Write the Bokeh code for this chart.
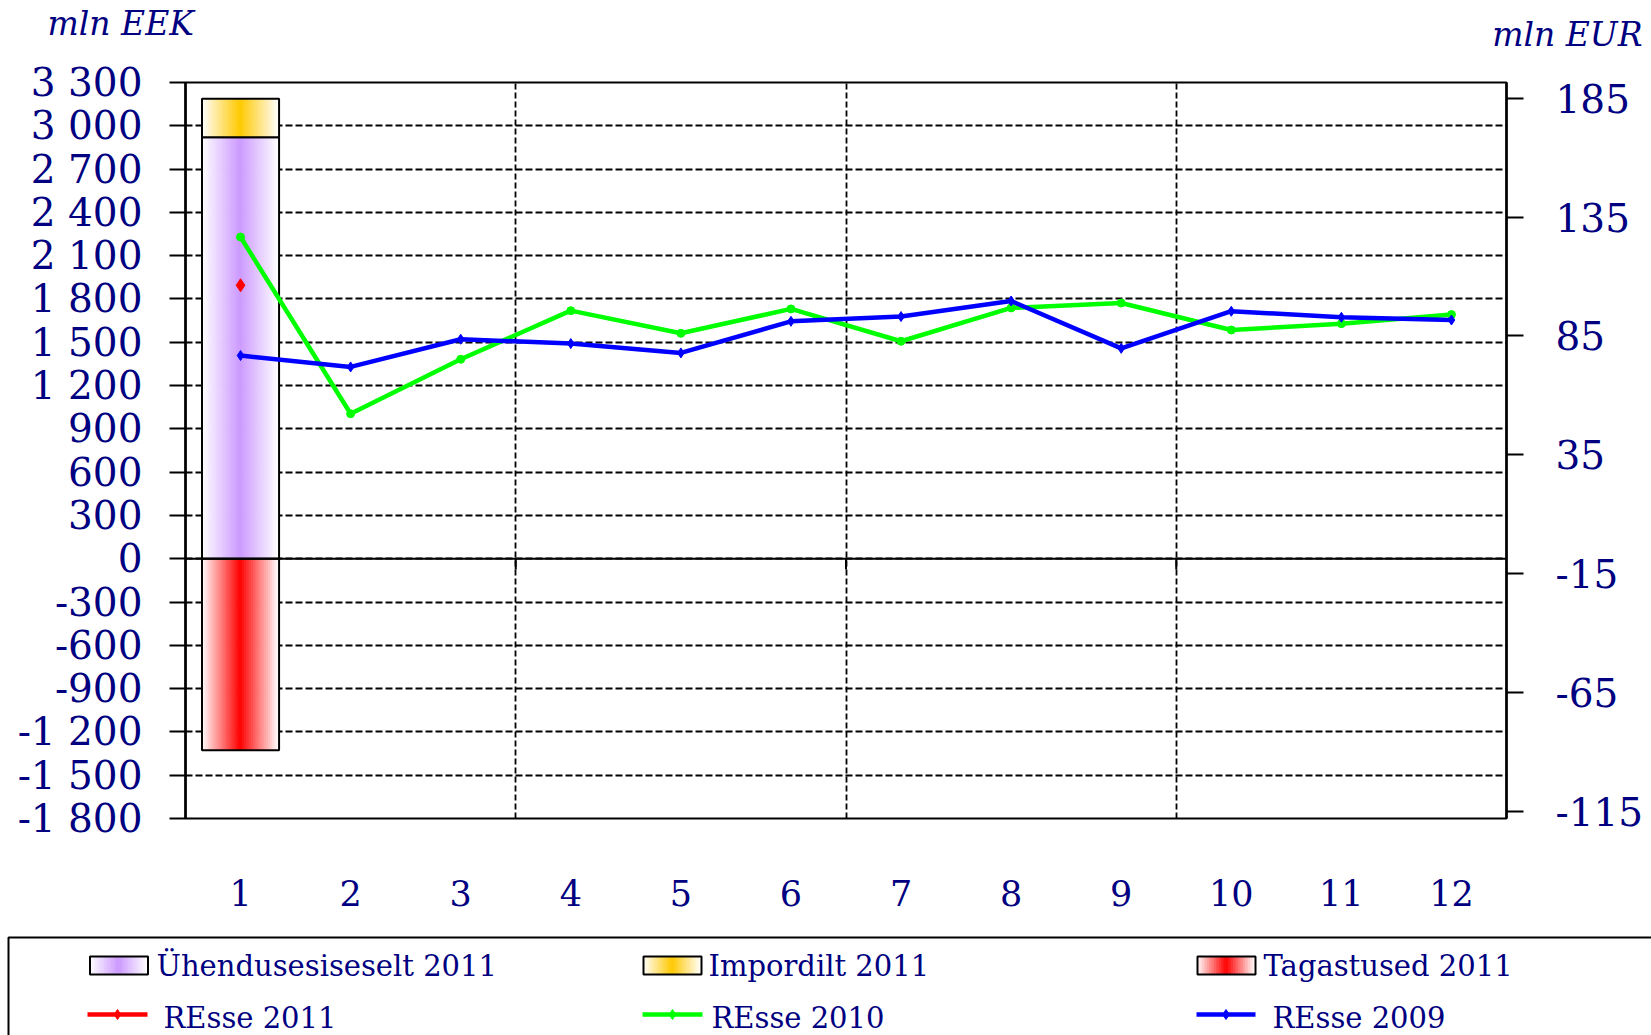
import numpy as np
from bokeh.plotting import figure
from bokeh.models import Range1d, LinearAxis, FixedTicker, Span
from bokeh.embed import file_html
from bokeh.resources import INLINE
from bokeh.core.properties import value

# ---------------- data ----------------
months = [1, 2, 3, 4, 5, 6, 7, 8, 9, 10, 11, 12]
month_labels = ["1", "2", "3", "4", "5", "6", "7", "8", "9", "10", "11", "12"]

bar_months = [1]
uhendus_2011 = [2921]      # Ühendusesiseselt 2011
import_2011 = [266]        # Impordilt 2011 (stacked on top)
tagastused_2011 = [-1327]  # Tagastused 2011

resse_2011 = [1895]
resse_2010 = [2229, 1005, 1382, 1719, 1562, 1731, 1507, 1738, 1772, 1585, 1629, 1692]
resse_2009 = [1408, 1329, 1521, 1491, 1426, 1645, 1678, 1786, 1458, 1715, 1673, 1654]

eek_ticks = [3300, 3000, 2700, 2400, 2100, 1800, 1500, 1200, 900, 600, 300, 0,
             -300, -600, -900, -1200, -1500, -1800]
eek_labels = ["3 300", "3 000", "2 700", "2 400", "2 100", "1 800", "1 500", "1 200",
              "900", "600", "300", "0", "-300", "-600", "-900", "-1 200", "-1 500", "-1 800"]
eur_ticks = [185, 135, 85, 35, -15, -65, -115]
eur_labels = ["185", "135", "85", "35", "-15", "-65", "-115"]
quarter_breaks = [3.5, 6.5, 9.5]

unit_titles = ["mln EEK", "mln EUR"]
legend_labels = ["Ühendusesiseselt 2011", "Impordilt 2011", "Tagastused 2011",
                 "REsse 2011", "REsse 2010", "REsse 2009"]

# ---------------- style ----------------
FONT = "DejaVu Serif"
NAVY = "#000080"
PURPLE = "#CC99FF"
ORANGE = "#FFC800"
RED = "#FF0000"
GREEN = "#00FF00"
BLUE = "#0000FF"

W = 1651
H0 = 57           # header strip (unit titles)
H1 = 928 - H0     # main chart
H2 = 107          # legend strip
FL, FR, FT, FB = 185, 1506, 82 - H0, 818 - H0   # frame edges on the main canvas


def mix(hexcol, t):
    r = int(hexcol[1:3], 16); g = int(hexcol[3:5], 16); b = int(hexcol[5:7], 16)
    return "#%02x%02x%02x" % (round(255 + (r - 255) * t), round(255 + (g - 255) * t),
                              round(255 + (b - 255) * t))


def gradient_bar(fig, xc, w, bottom, top, color, n=36, lw=2):
    edges = np.linspace(xc - w / 2, xc + w / 2, n + 1)
    centers = (edges[:-1] + edges[1:]) / 2
    t = 1 - np.abs(centers - xc) / (w / 2)
    cols = [mix(color, ti) for ti in t]
    fig.quad(left=edges[:-1], right=edges[1:], bottom=[bottom] * n, top=[top] * n,
             fill_color=cols, line_color=cols, line_width=1)
    fig.quad(left=[xc - w / 2], right=[xc + w / 2], bottom=[bottom], top=[top],
             fill_color=None, line_color="black", line_width=lw)


def strip(height):
    f = figure(width=W, height=height, x_range=Range1d(0, W), y_range=Range1d(height, 0),
               output_backend="svg", toolbar_location=None,
               x_axis_location=None, y_axis_location=None, min_border=0)
    f.outline_line_color = None
    f.grid.visible = False
    f.background_fill_color = "white"
    f.border_fill_color = "white"
    return f


# ---------------- header (unit titles) ----------------
h = strip(H0)
h.text(x=[47], y=[23], text=unit_titles[:1],
       text_font=value(FONT), text_font_style="italic", text_font_size=value("33px"),
       text_color=NAVY, text_baseline="middle", text_align="left")
h.text(x=[1642], y=[34], text=unit_titles[1:],
       text_font=value(FONT), text_font_style="italic", text_font_size=value("33px"),
       text_color=NAVY, text_baseline="middle", text_align="right")

# ---------------- main chart ----------------
p = figure(width=W, height=H1, x_range=Range1d(0.5, 12.5), y_range=Range1d(-1800, 3300),
           output_backend="svg", toolbar_location=None,
           x_axis_location=None, y_axis_location=None,
           min_border_left=FL, min_border_right=W - FR, min_border_top=FT,
           min_border_bottom=H1 - FB)
p.outline_line_color = "black"
p.outline_line_width = 2
p.background_fill_color = "white"
p.border_fill_color = "white"

p.extra_y_ranges = {"eur": Range1d(-118, 191.6)}

# grids
p.ygrid.ticker = FixedTicker(ticks=eek_ticks)
p.ygrid.grid_line_color = "black"
p.ygrid.grid_line_dash = "7 3"
p.ygrid.grid_line_width = 1.8
p.xgrid.ticker = FixedTicker(ticks=quarter_breaks)
p.xgrid.grid_line_color = "black"
p.xgrid.grid_line_dash = "6 3"
p.xgrid.grid_line_width = 1.8

# left axis
ly = LinearAxis(ticker=FixedTicker(ticks=eek_ticks),
                major_label_overrides={t: l for t, l in zip(eek_ticks, eek_labels)})
# right axis
ry = LinearAxis(y_range_name="eur", ticker=FixedTicker(ticks=eur_ticks),
                major_label_overrides={t: l for t, l in zip(eur_ticks, eur_labels)})
for ax, out, so in ((ly, 16, 27), (ry, 17, 32)):
    ax.major_tick_out = out
    ax.major_tick_in = 0
    ax.minor_tick_out = 0
    ax.minor_tick_in = 0
    ax.major_tick_line_width = 2
    ax.major_tick_line_color = "black"
    ax.axis_line_color = "black"
    ax.axis_line_width = 2.5
    ax.major_label_text_font = FONT
    ax.major_label_text_font_size = "39px"
    ax.major_label_text_color = NAVY
    ax.major_label_standoff = so
p.add_layout(ly, "left")
p.add_layout(ry, "right")

# bottom axis (category numbers)
bx = LinearAxis(ticker=FixedTicker(ticks=months),
                major_label_overrides={m: l for m, l in zip(months, month_labels)})
bx.axis_line_color = None
bx.major_tick_line_color = None
bx.major_tick_out = 0
bx.major_tick_in = 0
bx.minor_tick_line_color = None
bx.major_label_text_font = FONT
bx.major_label_text_font_size = "35px"
bx.major_label_text_color = NAVY
bx.major_label_standoff = 61
p.add_layout(bx, "below")

# bars (gradient filled)
BAR_W = 0.70
for m, u, im, tg in zip(bar_months, uhendus_2011, import_2011, tagastused_2011):
    gradient_bar(p, m, BAR_W, 0, u, PURPLE)
    gradient_bar(p, m, BAR_W, u, u + im, ORANGE)
    gradient_bar(p, m, BAR_W, tg, 0, RED)

# zero line with quarter ticks
p.add_layout(Span(location=0, dimension="width", line_color="black", line_width=2))
p.segment(x0=quarter_breaks, y0=[0] * 3, x1=quarter_breaks, y1=[-75] * 3,
          line_color="black", line_width=2)

# lines
p.line(months, resse_2010, line_color=GREEN, line_width=4.5)
p.scatter(months, resse_2010, marker="circle", size=8, color=GREEN)
p.line(months, resse_2009, line_color=BLUE, line_width=4.5)
p.scatter(months, resse_2009, marker="diamond", size=10, color=BLUE)
p.scatter(bar_months, resse_2011, marker="diamond", size=13, color=RED)

# ---------------- legend strip ----------------
q = strip(H2)
q.quad(left=[8], right=[W + 60], top=[9], bottom=[H2 + 60], fill_color=None,
       line_color="black", line_width=2)

sw_left = [89.5, 643, 1197]
sw_w = 58
for xl, col in zip(sw_left, [PURPLE, ORANGE, RED]):
    gradient_bar(q, xl + sw_w / 2, sw_w, 46, 28, col, n=24, lw=2)
q.text(x=[156, 708, 1263], y=[37, 37, 37], text=legend_labels[:3],
       text_font=value(FONT), text_font_size=value("29px"), text_color=NAVY,
       text_baseline="middle", text_align="left")

ln_x0 = [87, 642, 1196]
ln_x1 = [147, 702, 1255]
ln_cols = [RED, GREEN, BLUE]
q.segment(x0=ln_x0, y0=[86] * 3, x1=ln_x1, y1=[86] * 3, line_color=ln_cols, line_width=4.5)
q.scatter(x=[(a + b) / 2 for a, b in zip(ln_x0, ln_x1)], y=[86] * 3,
          marker="diamond", size=10, color=ln_cols)
q.text(x=[163, 711, 1272], y=[89, 89, 89], text=legend_labels[3:],
       text_font=value(FONT), text_font_size=value("29px"), text_color=NAVY,
       text_baseline="middle", text_align="left")

open("out.html", "w").write(file_html([h, p, q], INLINE))
